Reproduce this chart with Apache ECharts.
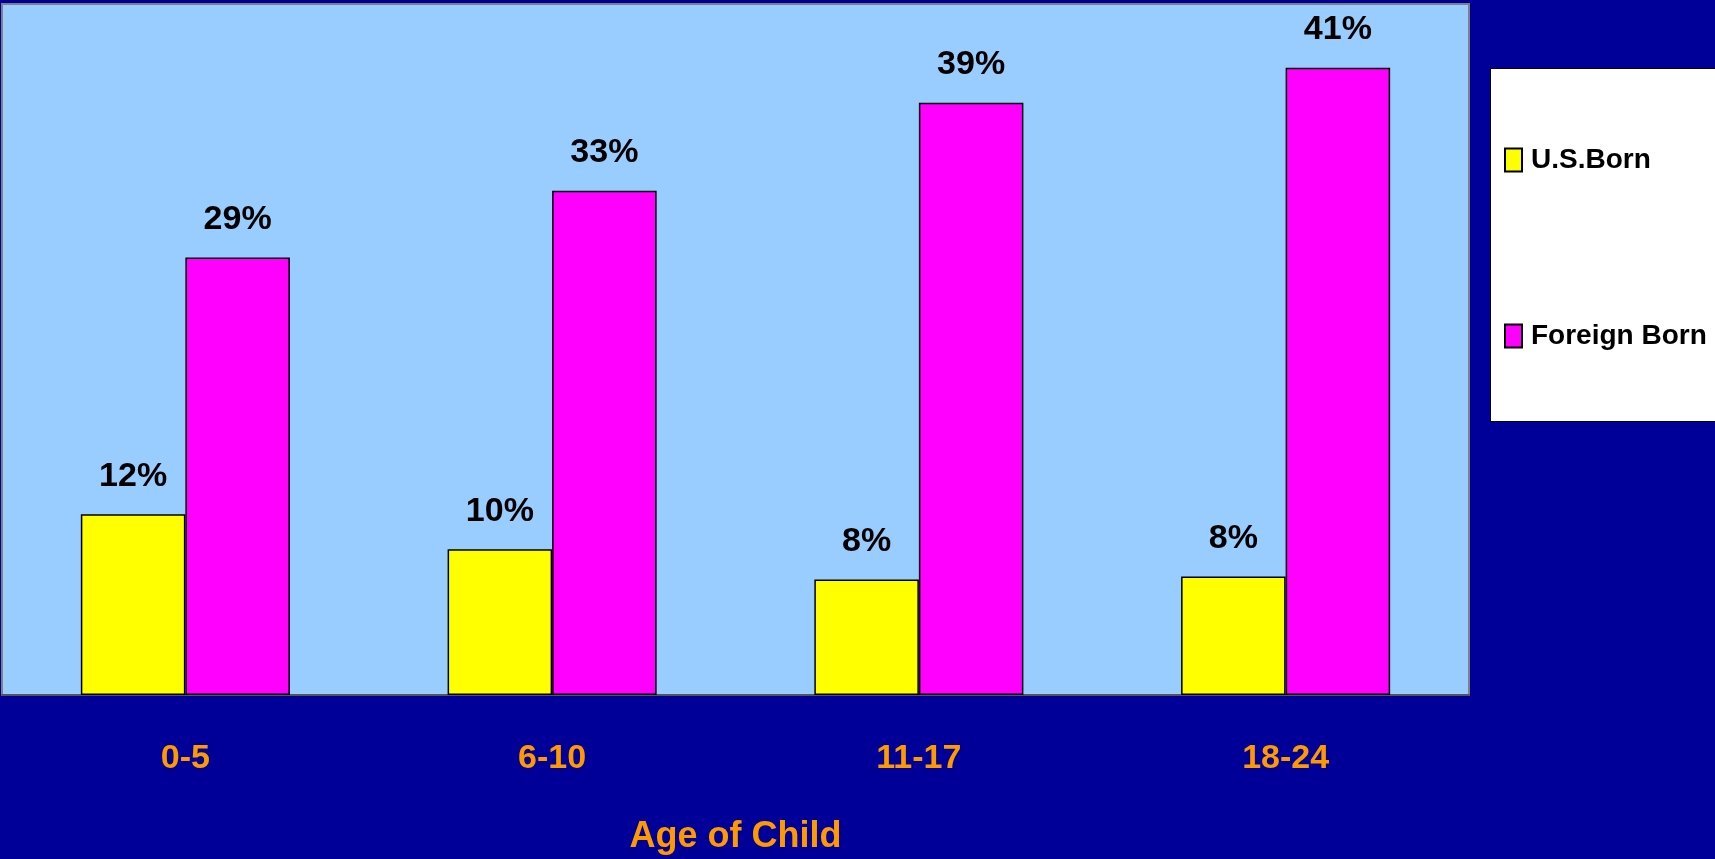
<!DOCTYPE html>
<html>
<head>
<meta charset="utf-8">
<script src="https://cdn.jsdelivr.net/npm/echarts@6/dist/echarts.min.js"></script>
<style>
  html, body { margin: 0; padding: 0; background: #000099; }
  #chart { width: 1715px; height: 859px; }
</style>
</head>
<body>
<div id="chart"></div>
<script>
// data (percent)
const categories = ['0-5', '6-10', '11-17', '18-24']
const usBorn = [11.9, 9.6, 7.6, 7.8]
const foreignBorn = [28.8, 33.2, 39.0, 41.3]
const seriesNames = ['U.S.Born', 'Foreign Born']

const FONT = '"Liberation Sans", Arial, sans-serif'

const chart = echarts.init(document.getElementById('chart'))

const labelStyle = {
  show: true,
  position: 'top',
  distance: 21,
  color: '#000',
  fontFamily: FONT,
  fontWeight: 'bold',
  fontSize: 34,
  formatter: (p) => Math.round(p.value) + '%',
}

chart.setOption({
  backgroundColor: '#000099',
  animation: false,
  grid: {
    left: 2,
    top: 4,
    right: 246,
    bottom: 164,
    outerBoundsMode: 'none',
    containLabel: false,
    show: true,
    backgroundColor: '#99CCFF',
    borderColor: '#808080',
    borderWidth: 2,
  },
  graphic: [
    {
      type: 'rect',
      left: 1490,
      top: 68,
      shape: { width: 240, height: 353 },
      style: { fill: '#fff', stroke: '#000', lineWidth: 1 },
      z: 0,
    },
  ],
  legend: {
    orient: 'vertical',
    left: 1499,
    top: 141,
    itemWidth: 17,
    itemHeight: 23,
    itemGap: 148,
    icon: 'rect',
    textStyle: {
      color: '#000',
      fontFamily: FONT,
      fontWeight: 'bold',
      fontSize: 28,
      padding: [0, 0, 0, 4],
    },
    z: 5,
  },
  xAxis: {
    type: 'category',
    data: categories,
    axisLine: { lineStyle: { color: '#555', width: 2 } },
    axisTick: { length: 12, lineStyle: { color: '#000', width: 1 } },
    axisLabel: {
      color: '#FF9900',
      fontFamily: FONT,
      fontWeight: 'bold',
      fontSize: 34,
      margin: 47,
    },
    name: 'Age of Child',
    nameLocation: 'middle',
    nameGap: 124,
    nameTextStyle: {
      color: '#FF9900',
      fontFamily: FONT,
      fontWeight: 'bold',
      fontSize: 36,
    },
  },
  yAxis: {
    type: 'value',
    min: 0,
    max: 45.5,
    axisLine: { show: false },
    axisTick: { show: false },
    axisLabel: { show: false },
    splitLine: { show: false },
  },
  series: [
    {
      name: seriesNames[0],
      type: 'bar',
      data: usBorn,
      barGap: '0%',
      barCategoryGap: '43%',
      itemStyle: { color: '#FFFF00', borderColor: '#000', borderWidth: 1.5 },
      label: labelStyle,
    },
    {
      name: seriesNames[1],
      type: 'bar',
      data: foreignBorn,
      itemStyle: { color: '#FF00FF', borderColor: '#000', borderWidth: 1.5 },
      label: labelStyle,
    },
  ],
})
</script>
</body>
</html>
